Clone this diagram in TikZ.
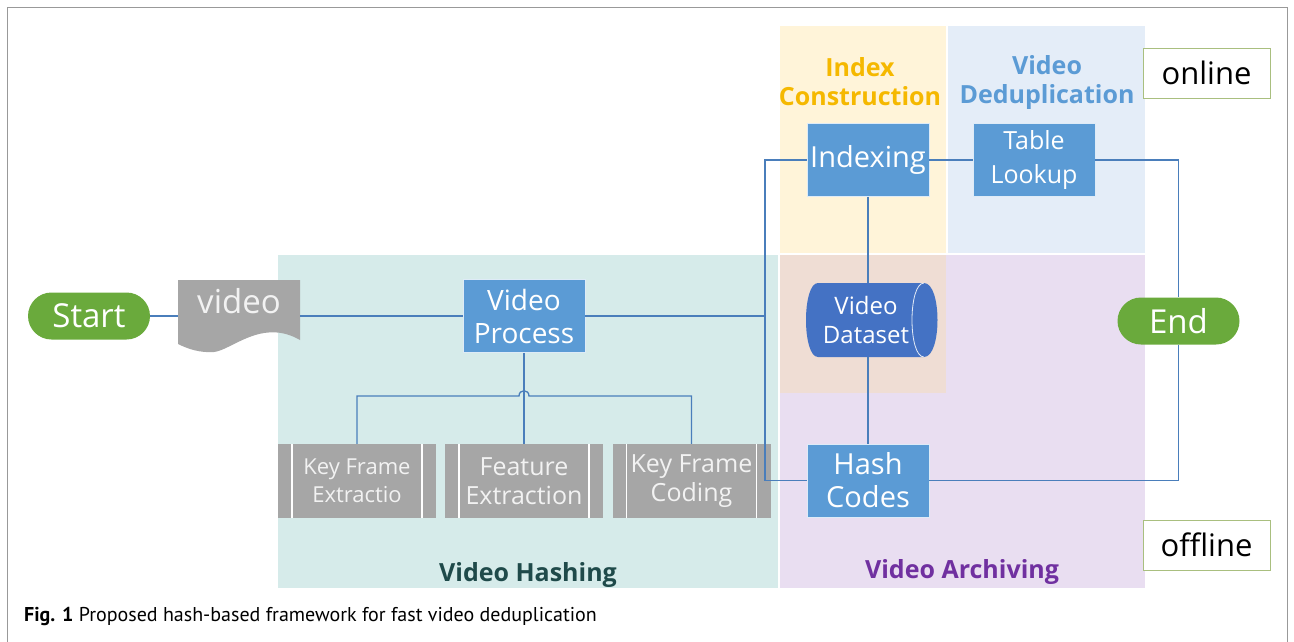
\documentclass[tikz,border=0pt]{standalone}
\usepackage{fontspec}
\setmainfont{Open Sans}
\newfontfamily\capfont{PT Sans}
\definecolor{tealbg}{HTML}{D6EBEA}
\definecolor{yelbg}{HTML}{FFF4D9}
\definecolor{bluebg}{HTML}{E4EDF8}
\definecolor{peachbg}{HTML}{EFDDD4}
\definecolor{lavbg}{HTML}{E9DEF1}
\definecolor{boxblue}{HTML}{5B9BD5}
\definecolor{dsblue}{HTML}{4472C4}
\definecolor{pillgreen}{HTML}{6AAA3C}
\definecolor{docgray}{HTML}{A6A6A6}
\definecolor{linecol}{HTML}{4A7EBB}
\definecolor{idxyel}{HTML}{F5B800}
\definecolor{dedblue}{HTML}{5B9BD5}
\definecolor{hashdark}{HTML}{1F4A4A}
\definecolor{archpurple}{HTML}{7030A0}
\definecolor{tagborder}{HTML}{A9BF7F}
\tikzset{
  bluebox/.style={rectangle, fill=boxblue, draw=white!80!boxblue, line width=0.6pt, minimum width=122pt, minimum height=73pt, inner sep=0pt, text=white, align=center, font=\fontsize{28}{33}\selectfont},
  pill/.style={rectangle, rounded corners=23.5pt, fill=pillgreen, minimum width=122pt, minimum height=47pt, inner sep=0pt, text=white, font=\fontsize{33}{36}\selectfont},
  kfbox/.style={rectangle, fill=docgray, minimum width=158pt, minimum height=74pt, inner sep=0pt, text=white!95!black, align=center,
    path picture={\draw[white, line width=1.2pt] ([xshift=14pt]path picture bounding box.north west) -- ([xshift=14pt]path picture bounding box.south west);
      \draw[white, line width=1.2pt] ([xshift=-14pt]path picture bounding box.north east) -- ([xshift=-14pt]path picture bounding box.south east);}},
  tag/.style={rectangle, draw=tagborder, line width=0.8pt, fill=white, minimum width=127pt, minimum height=50pt, inner sep=0pt, font=\fontsize{31}{34}\selectfont},
  grouplabel/.style={font=\bfseries\fontsize{25}{29}\selectfont, align=center},
  conn/.style={draw=linecol, line width=1.3pt},
}
\begin{document}
\begin{tikzpicture}[x=1pt,y=-1pt]
\useasboundingbox (0,0) rectangle (1294,641);
\draw[gray!80, line width=0.8pt] (7,7) rectangle (1287,645);
% backgrounds
\fill[tealbg] (278,255) rectangle (778,588);
\fill[yelbg] (780,26) rectangle (946,253);
\fill[bluebg] (948,26) rectangle (1145,253);
\fill[lavbg] (780,255) rectangle (1145,588);
\fill[peachbg] (780,255) rectangle (946,393);
% group labels
\node[grouplabel, text=idxyel] (lidx) at (860,82) {Index\\Construction};
\node[grouplabel, text=dedblue] (lded) at (1047,82) {Video\\Deduplication};
\node[grouplabel, text=hashdark] (lhash) at (528,575) {Video Hashing};
\node[grouplabel, text=archpurple] (larch) at (962,572) {Video Archiving};
% tags
\node[tag] (online) at (1206.5,73) {online};
\node[tag] (offline) at (1206.5,545) {offline};
% start / end
\node[pill] (start) at (89,316) {Start};
\node[pill] (end) at (1178.5,321) {End};
% video document
\fill[docgray] (178,280) -- (300,280) -- (300,340) .. controls (262,318) and (232,350) .. (214,352) .. controls (200,353) and (188,349) .. (178,344) -- cycle;
\node[minimum width=122pt, minimum height=72pt, inner sep=0pt] (video) at (239,316) {};
\node[text=white!95!black, font=\fontsize{33}{36}\selectfont] (videotxt) at (239,301) {video};
% video process
\node[bluebox] (vp) at (524,316) {Video\\Process};
% key frame boxes
\node[kfbox, font=\fontsize{22}{28}\selectfont] (kf1) at (357,481) {Key Frame\\Extractio};
\node[kfbox, font=\fontsize{25}{29}\selectfont] (kf2) at (524,481) {Feature\\Extraction};
\node[kfbox, font=\fontsize{25}{29}\selectfont] (kf3) at (691.5,481) {Key Frame\\Coding};
% right side boxes
\node[bluebox, font=\fontsize{29}{33}\selectfont] (idx) at (868,160) {Indexing};
\node[bluebox, font=\fontsize{25}{34}\selectfont] (tl) at (1034,160) {Table\\Lookup};
\node[bluebox, font=\fontsize{29}{33}\selectfont] (hc) at (868,480.5) {Hash\\Codes};
% dataset cylinder
\fill[dsblue] (818,283) -- (924,283) .. controls (942,283) and (942,357) .. (924,357) -- (818,357) .. controls (802,357) and (802,283) .. (818,283) -- cycle;
\draw[white!85!dsblue, line width=0.8pt] (924,283) .. controls (908,283) and (908,357) .. (924,357);
\node[minimum width=132pt, minimum height=74pt, inner sep=0pt] (ds) at (868,320) {};
\node[text=white, align=center, font=\fontsize{24}{29}\selectfont] (dstxt) at (866,320) {Video\\Dataset};
% junction coordinates
\coordinate (jt) at (765,160);
\coordinate (jm) at (765,316);
\coordinate (jb) at (765,480.5);
\coordinate (hop) at (524,396);
% connectors
\draw[conn] (start.east) -- (video.west);
\draw[conn] (video.east) -- (vp.west);
\draw[conn] (vp.east) -- (jm);
\draw[conn] (idx.west) -- (jt) -- (jb) -- (hc.west);
\draw[conn] (idx.east) -- (tl.west);
\draw[conn] (tl.east) -| (end.north);
\draw[conn] (end.south) |- (hc.east);
\draw[conn] (idx.south) -- (ds.north);
\draw[conn] (ds.south) -- (hc.north);
\draw[conn] (vp.south) -- (kf2.north);
\draw[conn] (kf1.north) |- ([xshift=-5pt]hop) .. controls +(0,-7) and +(0,-7) .. ([xshift=5pt]hop) -| (kf3.north);
% caption
\node[anchor=west, font=\capfont\fontsize{20}{24}\selectfont, inner sep=0pt] (cap) at (24,616) {\textbf{Fig. 1} Proposed hash-based framework for fast video deduplication};
\end{tikzpicture}
\end{document}
